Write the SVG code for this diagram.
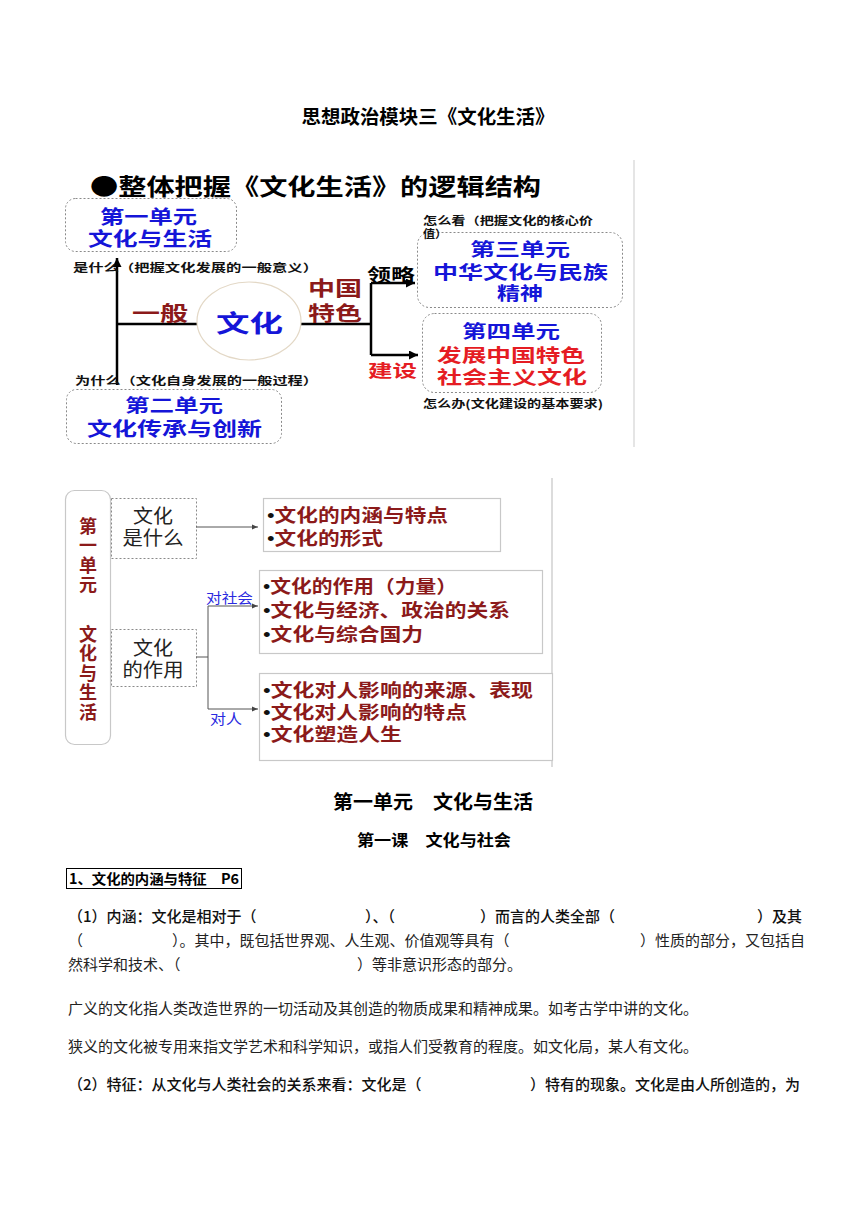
<svg xmlns="http://www.w3.org/2000/svg" width="860" height="1216" viewBox="0 0 860 1216">
<style>
text{font-family:"Noto Sans CJK SC","Noto Sans CJK JP",sans-serif;}
.b{font-weight:bold}
.blue{fill:#1515d8;font-weight:bold}
.dred{fill:#8b1a1a;font-weight:bold}
.red{fill:#e51c23;font-weight:bold}
.note{font-size:11px;font-weight:bold;fill:#111}
.dbox{fill:none;stroke:#8a8a8a;stroke-width:1;stroke-dasharray:2 2}
.thick{stroke:#000;stroke-width:2.5;fill:none}
.thin{stroke:#555;stroke-width:1;fill:none}
.gbox{fill:#fff;stroke:#c8c8c8;stroke-width:1.2}
.item{font-size:18px;fill:#8b1a1a;font-weight:bold}
.bul{font-family:"Liberation Sans",sans-serif;fill:#111;font-weight:normal}
.blk{font-size:19px;fill:#222}
.vt{font-size:18px;fill:#8b1a1a;font-weight:bold;writing-mode:vertical-rl;letter-spacing:1.5px}
.body{font-size:15px;fill:#222}
.bodyb{font-size:15px;fill:#111;font-weight:500}
.lbl{font-size:14px;fill:#2a2ae0}
</style>
<defs>
<marker id="ah" viewBox="0 0 10 10" refX="10" refY="5" markerWidth="9" markerHeight="9" orient="auto" markerUnits="userSpaceOnUse">
<path d="M0,0 L10,5 L0,10 z" fill="#000"/>
</marker>
<marker id="as" viewBox="0 0 10 10" refX="10" refY="5" markerWidth="6" markerHeight="6" orient="auto" markerUnits="userSpaceOnUse">
<path d="M0,1 L10,5 L0,9 z" fill="#444"/>
</marker>
</defs>

<!-- Title -->
<text x="428" y="124" font-size="19" class="b" text-anchor="middle" textLength="253" lengthAdjust="spacingAndGlyphs">思想政治模块三《文化生活》</text>

<!-- Top diagram -->
<g id="top-diagram">
<line x1="634" y1="160" x2="634" y2="447" stroke="#dcdcdc" stroke-width="1.5"/>
<text x="90" y="195" font-size="23" class="b" fill="#000" textLength="451" lengthAdjust="spacingAndGlyphs">●整体把握《文化生活》的逻辑结构</text>
</g>

<g id="connectors-top">
<path class="thick" d="M117,385 V258" marker-end="url(#ah)"/>
<path class="thick" d="M117,324 H197"/>
<path class="thick" d="M301,324 H371"/>
<path class="thick" d="M371,283 V355"/>
<path class="thick" d="M371,283 H415" marker-end="url(#ah)"/>
<path class="thick" d="M371,355 H418" marker-end="url(#ah)"/>
</g>

<g id="unit1">
<rect class="dbox" x="65.5" y="198.5" width="171" height="53" rx="10"/>
<text x="148.5" y="224" font-size="19" class="blue" text-anchor="middle" textLength="97" lengthAdjust="spacingAndGlyphs">第一单元</text>
<text x="150" y="246" font-size="19" class="blue" text-anchor="middle" textLength="124" lengthAdjust="spacingAndGlyphs">文化与生活</text>
</g>

<g id="unit2">
<rect class="dbox" x="66.5" y="389.5" width="215" height="54" rx="10"/>
<text x="174" y="412" font-size="18" class="blue" text-anchor="middle" textLength="98" lengthAdjust="spacingAndGlyphs">第二单元</text>
<text x="174.5" y="436" font-size="19" class="blue" text-anchor="middle" textLength="175" lengthAdjust="spacingAndGlyphs">文化传承与创新</text>
</g>

<g id="unit3">
<rect class="dbox" x="417.5" y="232.5" width="205" height="75" rx="12"/>
<text x="520" y="256" font-size="18" class="blue" text-anchor="middle" textLength="100" lengthAdjust="spacingAndGlyphs">第三单元</text>
<text x="520.5" y="279" font-size="18" class="blue" text-anchor="middle" textLength="175" lengthAdjust="spacingAndGlyphs">中华文化与民族</text>
<text x="520" y="300" font-size="18" class="blue" text-anchor="middle" textLength="46" lengthAdjust="spacingAndGlyphs">精神</text>
</g>

<g id="unit4">
<rect class="dbox" x="422.5" y="313.5" width="179" height="79" rx="12"/>
<text x="511" y="338" font-size="18" class="blue" text-anchor="middle" textLength="98" lengthAdjust="spacingAndGlyphs">第四单元</text>
<text x="511" y="362" font-size="18" class="red" text-anchor="middle" textLength="148" lengthAdjust="spacingAndGlyphs">发展中国特色</text>
<text x="512" y="384" font-size="18" class="red" text-anchor="middle" textLength="150" lengthAdjust="spacingAndGlyphs">社会主义文化</text>
</g>

<g id="culture">
<ellipse cx="249" cy="321" rx="52" ry="39" fill="#fff" stroke="#e3d8c6" stroke-width="1.2"/>
<text x="249.5" y="332" font-size="24" class="blue" text-anchor="middle" textLength="67" lengthAdjust="spacingAndGlyphs">文化</text>
</g>

<g id="labels-top">
<text x="73" y="272" class="note" textLength="245" lengthAdjust="spacingAndGlyphs">是什么（把握文化发展的一般意义）</text>
<text x="75" y="385" class="note" textLength="243" lengthAdjust="spacingAndGlyphs">为什么（文化自身发展的一般过程）</text>
<text x="423" y="225" class="note" font-size="9.5" textLength="170" lengthAdjust="spacingAndGlyphs">怎么看（把握文化的核心价</text>
<text x="423" y="238" class="note" font-size="9.5" textLength="24" lengthAdjust="spacingAndGlyphs">值）</text>
<text x="423" y="408" class="note" textLength="180" lengthAdjust="spacingAndGlyphs">怎么办(文化建设的基本要求)</text>
<text x="132" y="321" font-size="20" class="dred" textLength="56" lengthAdjust="spacingAndGlyphs">一般</text>
<text x="308" y="296" font-size="20" class="dred" textLength="54" lengthAdjust="spacingAndGlyphs">中国</text>
<text x="308" y="321" font-size="20" class="dred" textLength="54" lengthAdjust="spacingAndGlyphs">特色</text>
<text x="367" y="281" font-size="17" fill="#000" font-weight="bold" textLength="48" lengthAdjust="spacingAndGlyphs">领略</text>
<text x="368" y="377" font-size="17" class="red" textLength="49" lengthAdjust="spacingAndGlyphs">建设</text>
</g>

<!-- Second diagram -->
<g id="second-frame">
<line x1="552" y1="478" x2="552" y2="767" stroke="#d0d0d0" stroke-width="1.5"/>
</g>

<g id="unit1-side">
<rect x="65.5" y="490.5" width="45" height="254" rx="9" fill="#fff" stroke="#c8c8c8" stroke-width="1.2"/>
<text class="vt" x="88" y="517">第一单元</text>
<text class="vt" x="88" y="625">文化与生活</text>
</g>

<g id="what-box">
<rect class="dbox" x="111.5" y="498.5" width="85" height="60" fill="#fff"/>
<text class="blk" x="153" y="523" text-anchor="middle" textLength="40" lengthAdjust="spacingAndGlyphs">文化</text>
<text class="blk" x="153" y="545" text-anchor="middle" textLength="61" lengthAdjust="spacingAndGlyphs">是什么</text>
</g>

<g id="role-box">
<rect class="dbox" x="111.5" y="629.5" width="85" height="57" fill="#fff"/>
<text class="blk" x="153" y="655" text-anchor="middle" textLength="40" lengthAdjust="spacingAndGlyphs">文化</text>
<text class="blk" x="153" y="677" text-anchor="middle" textLength="61" lengthAdjust="spacingAndGlyphs">的作用</text>
</g>

<g id="list1">
<rect class="gbox" x="263.5" y="498.5" width="237" height="53"/>
<text class="item" x="267" y="522" textLength="181" lengthAdjust="spacingAndGlyphs"><tspan class="bul">•</tspan>文化的内涵与特点</text>
<text class="item" x="267" y="545" textLength="116" lengthAdjust="spacingAndGlyphs"><tspan class="bul">•</tspan>文化的形式</text>
</g>

<g id="list2">
<rect class="gbox" x="259.5" y="570.5" width="283" height="83"/>
<text class="item" x="263" y="593" textLength="194" lengthAdjust="spacingAndGlyphs"><tspan class="bul">•</tspan>文化的作用（力量）</text>
<text class="item" x="263" y="617" textLength="247" lengthAdjust="spacingAndGlyphs"><tspan class="bul">•</tspan>文化与经济、政治的关系</text>
<text class="item" x="263" y="641" textLength="160" lengthAdjust="spacingAndGlyphs"><tspan class="bul">•</tspan>文化与综合国力</text>
</g>

<g id="list3">
<rect class="gbox" x="259.5" y="673.5" width="293" height="87"/>
<text class="item" x="263" y="697" textLength="270" lengthAdjust="spacingAndGlyphs"><tspan class="bul">•</tspan>文化对人影响的来源、表现</text>
<text class="item" x="263" y="719" textLength="204" lengthAdjust="spacingAndGlyphs"><tspan class="bul">•</tspan>文化对人影响的特点</text>
<text class="item" x="263" y="741" textLength="139" lengthAdjust="spacingAndGlyphs"><tspan class="bul">•</tspan>文化塑造人生</text>
</g>

<g id="connectors-second">
<path class="thin" d="M196,527 H258" marker-end="url(#as)"/>
<path class="thin" d="M196,657 H208"/>
<path class="thin" d="M208,606 V709"/>
<path class="thin" d="M208,606 H258" marker-end="url(#as)"/>
<path class="thin" d="M208,709 H258" marker-end="url(#as)"/>
<text class="lbl" x="206" y="603" textLength="47" lengthAdjust="spacingAndGlyphs">对社会</text>
<text class="lbl" x="210" y="724" textLength="32" lengthAdjust="spacingAndGlyphs">对人</text>
</g>

<!-- Text section -->
<g id="text-section">
<text x="433" y="809" font-size="19" class="b" fill="#000" text-anchor="middle" textLength="200" lengthAdjust="spacingAndGlyphs">第一单元　文化与生活</text>
<text x="434" y="846" font-size="16" class="b" fill="#000" text-anchor="middle" textLength="154" lengthAdjust="spacingAndGlyphs">第一课　文化与社会</text>

<rect x="66.5" y="868.5" width="175" height="20" fill="none" stroke="#000" stroke-width="1"/>
<text x="69" y="884" font-size="14" class="b" fill="#000" textLength="170" lengthAdjust="spacingAndGlyphs">1、文化的内涵与特征　P6</text>

<text class="bodyb" x="68" y="922">（1）内涵：文化是相对于（</text>
<text class="bodyb" x="365" y="922">）、（</text>
<text class="bodyb" x="480" y="922">）而言的人类全部（</text>
<text class="bodyb" x="757" y="922">）及其</text>

<text class="body" x="68" y="946">（</text>
<text class="body" x="172" y="946">）。其中，既包括世界观、人生观、价值观等具有（</text>
<text class="body" x="640" y="946">）性质的部分，又包括自</text>

<text class="body" x="68" y="970">然科学和技术、（</text>
<text class="body" x="357" y="970">）等非意识形态的部分。</text>

<text class="body" x="68" y="1014">广义的文化指人类改造世界的一切活动及其创造的物质成果和精神成果。如考古学中讲的文化。</text>
<text class="body" x="68" y="1052">狭义的文化被专用来指文学艺术和科学知识，或指人们受教育的程度。如文化局，某人有文化。</text>

<text class="bodyb" x="68" y="1090">（2）特征：从文化与人类社会的关系来看：文化是（</text>
<text class="bodyb" x="530" y="1090">）特有的现象。文化是由人所创造的，为</text>
</g>
</svg>
